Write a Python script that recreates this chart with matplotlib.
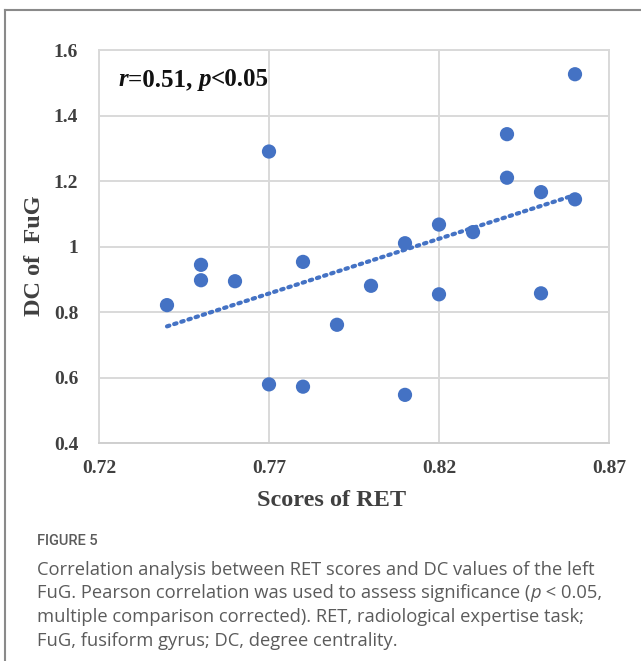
import numpy as np
import matplotlib
matplotlib.use("Agg")
import matplotlib.pyplot as plt
from matplotlib.lines import Line2D

# ---------------- data ----------------
ret_scores = [0.74, 0.75, 0.75, 0.76, 0.77, 0.77, 0.78, 0.78, 0.79, 0.80, 0.81,
              0.81, 0.82, 0.82, 0.83, 0.84, 0.84, 0.85, 0.85, 0.86, 0.86]
dc_values = [0.821, 0.944, 0.897, 0.894, 1.290, 0.579, 0.953, 0.572, 0.761, 0.880, 1.010,
             0.547, 1.067, 0.854, 1.044, 1.343, 1.210, 1.166, 0.857, 1.526, 1.144]
x_ticks = [0.72, 0.77, 0.82, 0.87]
x_tick_labels = ["0.72", "0.77", "0.82", "0.87"]
y_ticks = [0.4, 0.6, 0.8, 1.0, 1.2, 1.4, 1.6]
y_tick_labels = ["0.4", "0.6", "0.8", "1", "1.2", "1.4", "1.6"]
x_label = "Scores of RET"
y_label = "DC of  FuG"
caption_title = "FIGURE 5"

W, H, DPI = 641, 661, 100
fig = plt.figure(figsize=(W / DPI, H / DPI), dpi=DPI)
fig.patch.set_facecolor("white")

serif = "Liberation Serif"
blue = "#4472C4"
grid_c = "#d9d9d9"

ax = fig.add_axes([99 / W, 1 - 443 / H, (609 - 99) / W, (443 - 50) / H])
ax.set_xlim(0.72, 0.87)
ax.set_ylim(0.4, 1.6)
ax.set_xticks(x_ticks)
ax.set_xticklabels(x_tick_labels)
ax.set_yticks(y_ticks)
ax.set_yticklabels(y_tick_labels)
ax.grid(True, color=grid_c, linewidth=1.4)
ax.set_axisbelow(True)
for s in ax.spines.values():
    s.set_color(grid_c)
    s.set_linewidth(1.4)
ax.spines["bottom"].set_color("#cfcfcf")
ax.tick_params(length=0, labelsize=14, labelcolor="#404040")
ax.tick_params(axis="y", pad=15)
ax.tick_params(axis="x", pad=12)
for lab in ax.get_xticklabels() + ax.get_yticklabels():
    lab.set_fontfamily(serif)
    lab.set_fontweight("bold")

# trend line (least squares)
xs = np.array(ret_scores)
ys = np.array(dc_values)
slope, intercept = np.polyfit(xs, ys, 1)
xl = np.array([xs.min(), xs.max()])
ax.plot(xl, slope * xl + intercept, linestyle=(0, (0.6, 1.2)), color=blue,
        linewidth=3.0, dash_capstyle="round", zorder=2)

ax.scatter(xs, ys, s=105, color=blue, edgecolors="none", zorder=3)

# axis titles (placed like the chart-area-centred Excel titles)
fig.text(332 / W, 1 - 506 / H, x_label, fontfamily=serif, fontweight="bold",
         fontsize=17.5, color="#404040", ha="center", va="baseline")
fig.text(34 / W, 1 - 256 / H, y_label, fontfamily=serif, fontweight="bold",
         fontsize=17.5, color="#404040", ha="center", va="center", rotation=90)

# helper: draw runs of text sequentially
def draw_runs(x_px, y_px, runs, **common):
    fig.canvas.draw()
    r = fig.canvas.get_renderer()
    x = x_px
    for txt, kw in runs:
        opts = dict(common)
        opts.update(kw)
        t = fig.text(x / W, 1 - y_px / H, txt, va="baseline", ha="left", **opts)
        bb = t.get_window_extent(renderer=r)
        x += bb.width

# annotation r=0.51, p<0.05
draw_runs(118, 86, [
    ("r", dict(style="italic")),
    ("=0.51, ", {}),
    ("p", dict(style="italic")),
    ("<0.05", {}),
], fontfamily=serif, fontweight="bold", fontsize=18, color="#111111")

# figure border (left and top)
fig.add_artist(Line2D([5 / W, 5 / W], [0, 1 - 10 / H], transform=fig.transFigure,
                      color="#8a8a8a", linewidth=1.5))
fig.add_artist(Line2D([5 / W, 1], [1 - 10 / H, 1 - 10 / H], transform=fig.transFigure,
                      color="#8a8a8a", linewidth=1.5))

# caption
cap_font = "Open Sans"
cap_color = "#5b5b5b"
fig.text(37 / W, 1 - 545 / H, caption_title, fontfamily="Roboto", fontsize=10.5,
         fontweight="medium", color=cap_color, va="baseline", ha="left")
cap_lines = [
    [("Correlation analysis between RET scores and DC values of the left", {})],
    [("FuG. Pearson correlation was used to assess significance (", {}),
     ("p", dict(style="italic")), (" < 0.05,", {})],
    [("multiple comparison corrected). RET, radiological expertise task;", {})],
    [("FuG, fusiform gyrus; DC, degree centrality.", {})],
]
for i, runs in enumerate(cap_lines):
    draw_runs(37, 575 + i * 23.5, runs, fontfamily=cap_font, fontsize=13.2,
              color=cap_color)

fig.savefig("out.png", dpi=DPI)
